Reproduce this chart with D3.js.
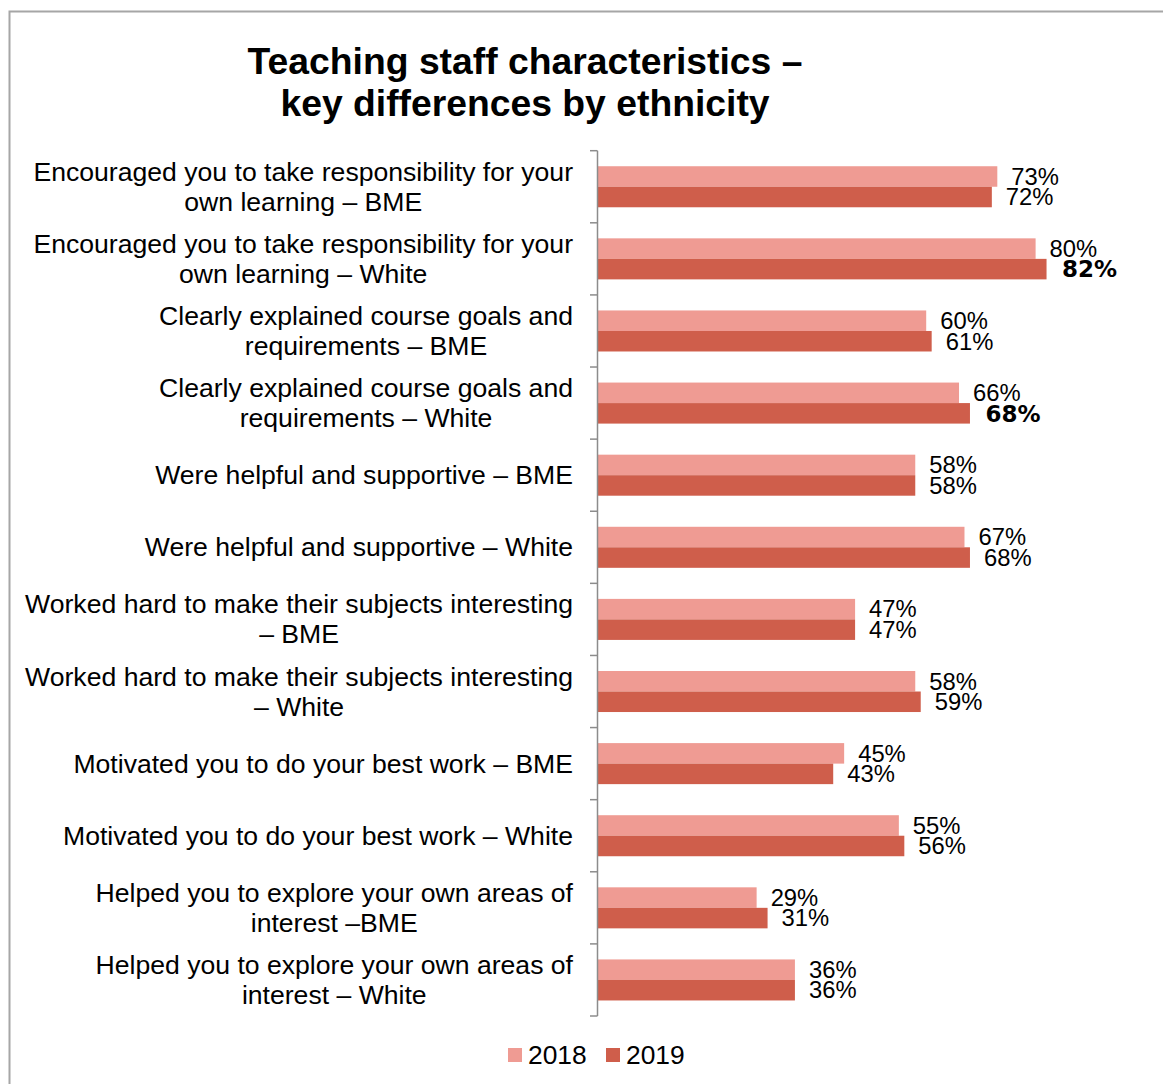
<!DOCTYPE html>
<html>
<head>
<meta charset="utf-8">
<script src="https://cdn.jsdelivr.net/npm/d3@7"></script>
<style>
  html, body { margin: 0; padding: 0; background: #fff; }
  svg { display: block; }
  text { font-family: Arial, "Liberation Sans", sans-serif; fill: #000; }
</style>
</head>
<body>
<svg id="chart" width="1163" height="1084"></svg>
<script>
// Survey items (each label split into its display lines)
const categories = [
  ["Encouraged you to take responsibility for your", "own learning \u2013 BME"],
  ["Encouraged you to take responsibility for your", "own learning \u2013 White"],
  ["Clearly explained course goals and", "requirements \u2013 BME"],
  ["Clearly explained course goals and", "requirements \u2013 White"],
  ["Were helpful and supportive \u2013 BME"],
  ["Were helpful and supportive \u2013 White"],
  ["Worked hard to make their subjects interesting", "\u2013 BME"],
  ["Worked hard to make their subjects interesting", "\u2013 White"],
  ["Motivated you to do your best work \u2013 BME"],
  ["Motivated you to do your best work \u2013 White"],
  ["Helped you to explore your own areas of", "interest \u2013BME"],
  ["Helped you to explore your own areas of", "interest \u2013 White"]
];
const seriesNames = ["2018", "2019"];
const values2018 = [73, 80, 60, 66, 58, 67, 47, 58, 45, 55, 29, 36];
const values2019 = [72, 82, 61, 68, 58, 68, 47, 59, 43, 56, 31, 36];
// 2019 labels shown in bold
const bold2019 = [false, true, false, true, false, false, false, false, false, false, false, false];
const titleLines = ["Teaching staff characteristics \u2013", "key differences by ethnicity"];

const colors = { "2018": "#EF9B93", "2019": "#CF5E4B" };

const svg = d3.select("#chart");

// outer frame
svg.append("rect")
  .attr("x", 9.5).attr("y", 11.5)
  .attr("width", 1300).attr("height", 1200)
  .attr("fill", "none").attr("stroke", "#a6a6a6").attr("stroke-width", 2);

// title
svg.append("g").selectAll("text")
  .data(titleLines).join("text")
  .attr("x", 525).attr("y", (d, i) => 74 + i * 42)
  .attr("text-anchor", "middle")
  .style("font-size", "37.3px").style("font-weight", "bold")
  .text(d => d);

const keys = categories.map((c, i) => i);
const y = d3.scaleBand()
  .domain(keys)
  .range([150.7, 1016])
  .paddingInner(0.431)
  .paddingOuter(0.2155);
const ySub = d3.scaleBand().domain(seriesNames).range([0, y.bandwidth()]);
const x = d3.scaleLinear().domain([0, 100]).range([598, 598 + 547]);

const rows = keys.map(i => ({ i, "2018": values2018[i], "2019": values2019[i] }));

// bars
const groups = svg.append("g").selectAll("g")
  .data(rows).join("g")
  .attr("transform", d => `translate(0,${y(d.i)})`);

groups.selectAll("rect")
  .data(d => seriesNames.map(s => ({ s, v: d[s], i: d.i })))
  .join("rect")
  .attr("x", x(0))
  .attr("y", d => ySub(d.s))
  .attr("width", d => x(d.v) - x(0))
  .attr("height", ySub.bandwidth())
  .attr("fill", d => colors[d.s]);

// value labels
const isBold = d => d.s === "2019" && bold2019[d.i];
groups.selectAll("text")
  .data(d => seriesNames.map(s => ({ s, v: d[s], i: d.i })))
  .join("text")
  .attr("x", d => x(d.v) + 14 + (isBold(d) ? 1.5 : 0))
  .attr("y", d => ySub(d.s) + ySub.bandwidth() / 2 + 8.3)
  .style("font-family", d => isBold(d) ? "'DejaVu Sans', Verdana, sans-serif" : null)
  .style("font-weight", d => isBold(d) ? "bold" : "normal")
  .style("font-size", d => isBold(d) ? "23px" : "23.8px")
  .text(d => d.v + "%");

// category axis: line with ticks at band boundaries
const step = y.step();
const gap = (step - y.bandwidth()) / 2;
const bounds = keys.map(i => y(i) - gap).concat([y(keys.length - 1) + y.bandwidth() + gap]);
const axis = svg.append("g").attr("stroke", "#8c8c8c").attr("stroke-width", 1.5);
axis.append("line")
  .attr("x1", 597.5).attr("x2", 597.5)
  .attr("y1", bounds[0]).attr("y2", bounds[bounds.length - 1]);
axis.selectAll("line.tick")
  .data(bounds).join("line").attr("class", "tick")
  .attr("x1", 590).attr("x2", 597.5)
  .attr("y1", d => d).attr("y2", d => d);

// category labels: a centred text block whose right edge sits at the axis gap
const labelRight = 573;
const labels = svg.append("g").selectAll("text")
  .data(keys).join("text")
  .attr("text-anchor", "middle")
  .style("font-size", "26.6px");
labels.each(function (i) {
  const lines = categories[i];
  const t = d3.select(this);
  lines.forEach((ln, k) => {
    t.append("tspan")
      .attr("x", 0)
      .attr("y", (k - (lines.length - 1) / 2) * 30)
      .text(ln);
  });
  let maxW = 0;
  t.selectAll("tspan").each(function () {
    maxW = Math.max(maxW, this.getComputedTextLength());
  });
  t.attr("transform", `translate(${labelRight - maxW / 2},${y(i) + y.bandwidth() / 2 + 9})`);
});

// legend
const legend = svg.append("g").selectAll("g")
  .data(seriesNames).join("g")
  .attr("transform", (d, i) => `translate(${508 + i * 98},1048)`);
legend.append("rect")
  .attr("width", 14).attr("height", 14)
  .attr("fill", d => colors[d]);
legend.append("text")
  .attr("x", 20).attr("y", 16)
  .style("font-size", "26.4px")
  .text(d => d);
</script>
</body>
</html>
